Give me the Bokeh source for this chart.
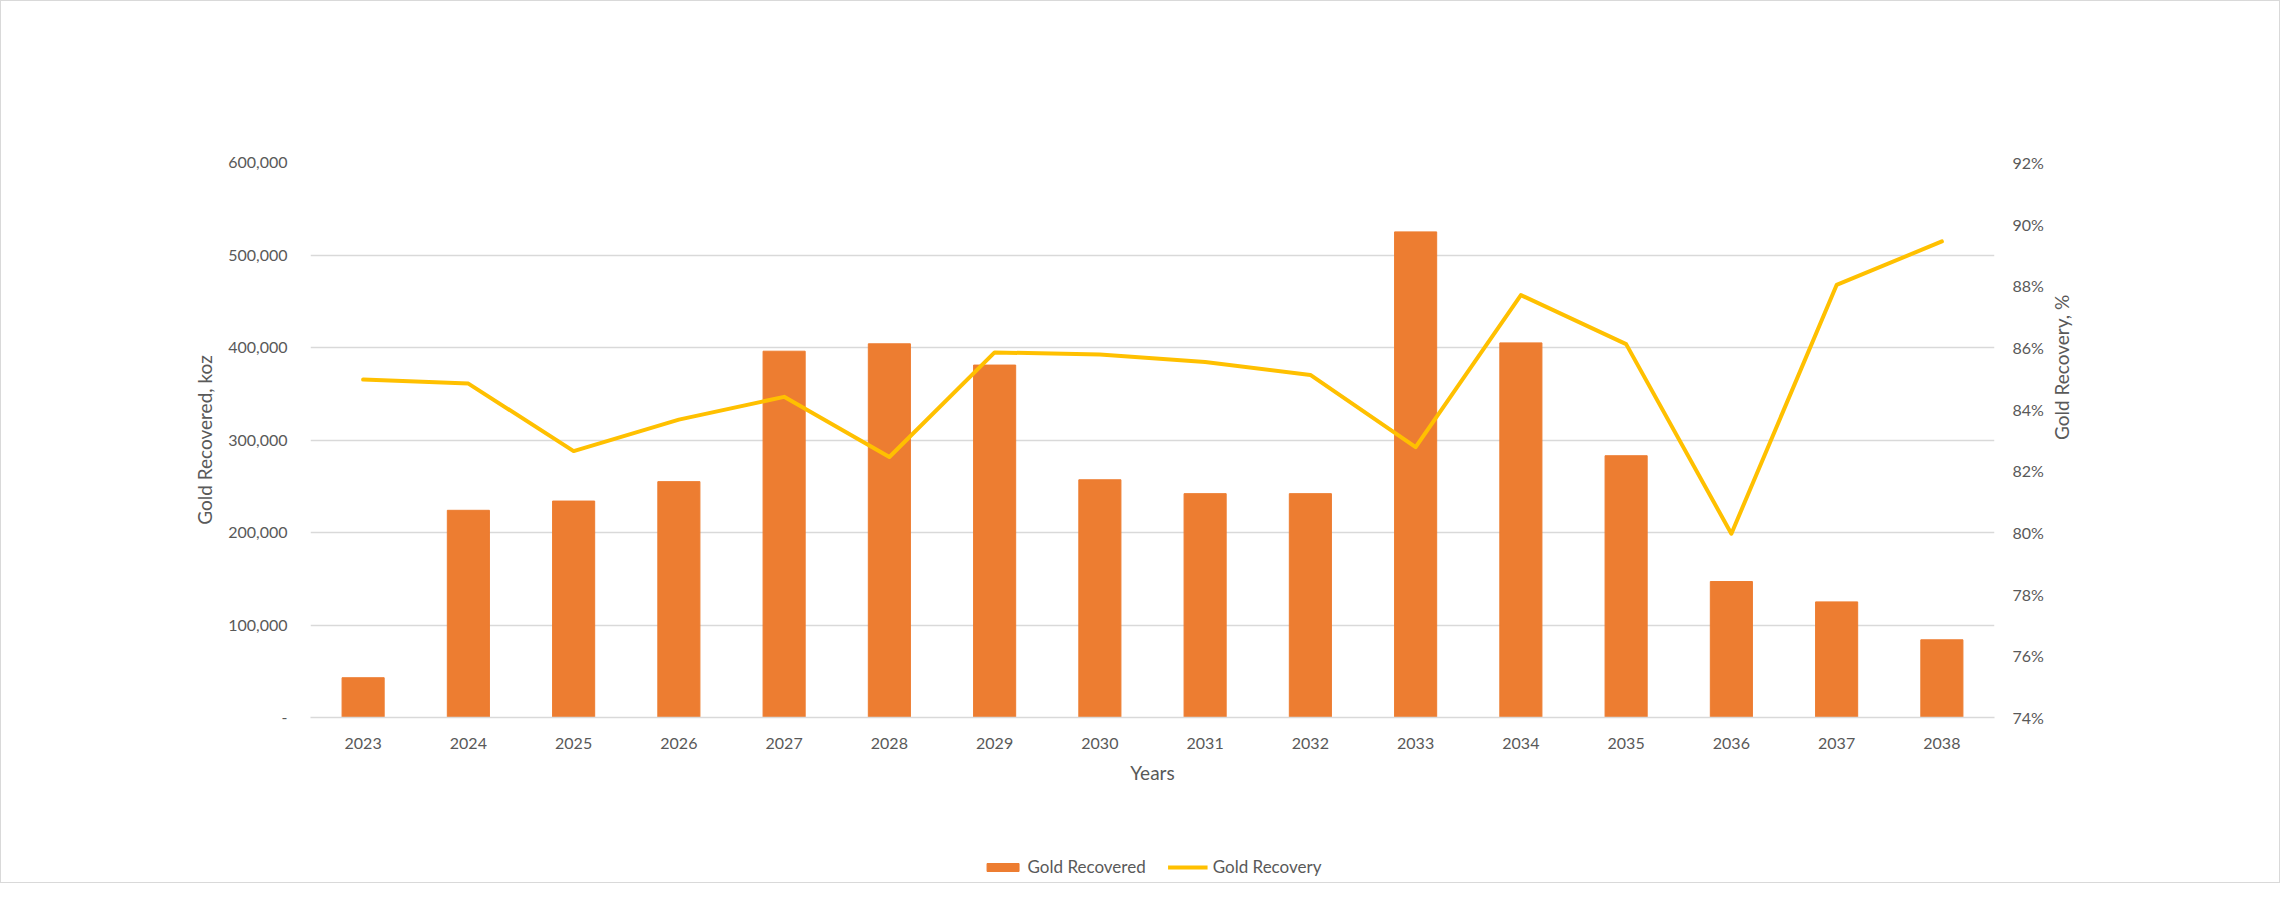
import math
from bokeh.plotting import figure
from bokeh.layouts import column
from bokeh.models import (Range1d, FactorRange, LinearAxis, FixedTicker, NumeralTickFormatter,
                          CustomJSTickFormatter, Legend, LegendItem, ColumnDataSource)
from bokeh.embed import file_html
from bokeh.resources import INLINE

# ---- data ----
years = ["2023", "2024", "2025", "2026", "2027", "2028", "2029", "2030",
         "2031", "2032", "2033", "2034", "2035", "2036", "2037", "2038"]
gold_recovered = [43000, 224000, 234000, 255000, 396000, 404000, 381000, 257000,
                  242000, 242000, 525000, 405000, 283000, 147000, 125000, 84000]
gold_recovery = [0.8496, 0.8483, 0.8264, 0.8366, 0.8440, 0.8245, 0.8584, 0.8577,
                 0.8553, 0.8511, 0.8277, 0.8770, 0.8611, 0.7996, 0.8803, 0.8944]
left_ticks = [0, 100000, 200000, 300000, 400000, 500000, 600000]
right_ticks = [0.74, 0.76, 0.78, 0.80, 0.82, 0.84, 0.86, 0.88, 0.90, 0.92]

TEXT = "#595959"
GRID = "#D9D9D9"
FONT = "Lato"
BAR_COLOR = "#ED7D31"
LINE_COLOR = "#FFC000"

src = ColumnDataSource(dict(year=years, rec=gold_recovered, pct=gold_recovery))

p = figure(width=2278, height=791, x_range=FactorRange(*years),
           y_range=Range1d(0, 600000), output_backend="svg", toolbar_location=None,
           min_border_left=309, min_border_right=285, min_border_top=161,
           min_border_bottom=75)
p.extra_y_ranges = {"pct": Range1d(0.74, 0.92)}
p.outline_line_color = None
p.background_fill_color = "white"
p.border_fill_color = "white"

bars = p.vbar(x="year", top="rec", width=0.4, source=src, color=BAR_COLOR)
line = p.line(x="year", y="pct", source=src, y_range_name="pct", line_color=LINE_COLOR,
              line_width=4, line_join="round", line_cap="round")

# left axis
yl = p.yaxis[0]
yl.ticker = FixedTicker(ticks=left_ticks)
yl.formatter = CustomJSTickFormatter(
    code="return tick == 0 ? '-' : Math.round(tick).toLocaleString('en-US');")
yl.axis_label = "Gold Recovered, koz"

# right axis
yr = LinearAxis(y_range_name="pct", ticker=FixedTicker(ticks=right_ticks),
                formatter=NumeralTickFormatter(format="0%"),
                axis_label="Gold Recovery, %")
p.add_layout(yr, "right")

xa = p.xaxis[0]
xa.axis_label = "Years"

for ax in (yl, yr, xa):
    ax.major_tick_line_color = None
    ax.minor_tick_line_color = None
    ax.major_tick_out = 0
    ax.major_tick_in = 0
    ax.major_label_text_font = FONT
    ax.major_label_text_font_size = "16px"
    ax.major_label_text_color = TEXT
    ax.axis_label_text_font = FONT
    ax.axis_label_text_font_size = "19px"
    ax.axis_label_text_font_style = "normal"
    ax.axis_label_text_color = TEXT

yl.axis_line_color = None
yr.axis_line_color = None
yl.major_label_standoff = 23
yl.axis_label_standoff = 9
yr.major_label_standoff = 18
yr.axis_label_standoff = 15
yr.axis_label_orientation = math.pi / 2

xa.axis_line_color = GRID
xa.axis_line_width = 1.5
xa.major_label_standoff = 20
xa.axis_label_standoff = 9

p.xgrid.grid_line_color = None
p.ygrid.grid_line_color = GRID
p.ygrid.grid_line_width = 1.5
p.ygrid.ticker = FixedTicker(ticks=left_ticks)

# legend strip below the chart (same series, kept outside its visible range)
pl = figure(width=2278, height=90, x_range=FactorRange(*years),
            y_range=Range1d(2000000, 3000000),
            x_axis_location=None, y_axis_location=None, output_backend="svg",
            toolbar_location=None, min_border=0, min_border_left=309,
            min_border_right=285)
pl.outline_line_color = None
pl.border_fill_color = "white"
pl.background_fill_color = "white"
pl.grid.visible = False
lg_bar = pl.vbar(x="year", top="rec", width=0.4, source=src, color=BAR_COLOR)
lg_line = pl.line(x="year", y="pct", source=src, line_color=LINE_COLOR, line_width=4)

legend = Legend(items=[LegendItem(label="Gold Recovered", renderers=[lg_bar]),
                       LegendItem(label="Gold Recovery", renderers=[lg_line])],
                orientation="horizontal", location="bottom_center",
                glyph_width=40, glyph_height=10, label_standoff=5, spacing=22,
                padding=0, margin=5, border_line_color=None,
                background_fill_alpha=0, label_text_font=FONT,
                label_text_font_size="17px", label_text_color=TEXT)
pl.add_layout(legend, "center")

layout = column(p, pl, spacing=0)
layout.styles = {"border": "1px solid #D9D9D9"}

open("out.html", "w").write(file_html(layout, INLINE))
